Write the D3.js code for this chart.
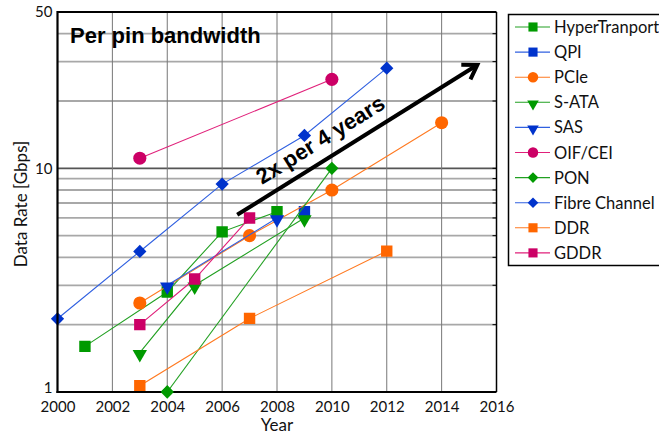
<!DOCTYPE html>
<html>
<head>
<meta charset="utf-8">
<script src="https://cdn.jsdelivr.net/npm/d3@7"></script>
<style>
  html, body { margin: 0; padding: 0; background: #fff; }
  svg { display: block; }
  .tick-label { font-family: Lato, "Open Sans", sans-serif; font-size: 15px; fill: #111; }
  .axis-title { font-family: Lato, "Open Sans", sans-serif; font-size: 17px; fill: #111; }
  .legend-label { font-family: Lato, "Open Sans", sans-serif; font-size: 16.5px; fill: #111; }
</style>
</head>
<body>
<svg id="chart" width="659" height="435"></svg>
<script>
// ---- data ----
const yearTicks = [2000, 2002, 2004, 2006, 2008, 2010, 2012, 2014, 2016];
const rateTickLabels = [1, 10, 50];
const rateGrid = [2, 3, 4, 5, 6, 7, 8, 9, 20, 30, 40];

const hyperTransportYears = [2001, 2004, 2006, 2008];
const hyperTransportRates = [1.6, 2.8, 5.2, 6.4];
const qpiYears = [2009];
const qpiRates = [6.4];
const pcieYears = [2003, 2007, 2010, 2014];
const pcieRates = [2.5, 5.0, 8.0, 16.0];
const sataYears = [2003, 2005, 2009];
const sataRates = [1.5, 3.0, 6.0];
const sasYears = [2004, 2008];
const sasRates = [3.0, 6.0];
const oifYears = [2003, 2010];
const oifRates = [11.1, 25.0];
const ponYears = [2004, 2010];
const ponRates = [1.0, 10.0];
const fibreYears = [2000, 2003, 2006, 2009, 2012];
const fibreRates = [2.125, 4.25, 8.5, 14.025, 28.05];
const ddrYears = [2000, 2003, 2007, 2012];
const ddrRates = [0.4, 1.066, 2.133, 4.266];
const gddrYears = [2003, 2005, 2007];
const gddrRates = [2.0, 3.2, 6.0];

const trendYears = [2006.55, 2015.3];
const trendRates = [6.2, 29];

const green = { mark: "#009a00", line: "#22a022" };
const blue = { mark: "#0033cc", line: "#3060e0" };
const orange = { mark: "#ff6600", line: "#ff7a22" };
const magenta = { mark: "#cc0066", line: "#e0207a" };

const series = [
  { name: "HyperTranport", years: hyperTransportYears, rates: hyperTransportRates, color: green, shape: "square" },
  { name: "QPI", years: qpiYears, rates: qpiRates, color: blue, shape: "square" },
  { name: "PCIe", years: pcieYears, rates: pcieRates, color: orange, shape: "circle" },
  { name: "S-ATA", years: sataYears, rates: sataRates, color: green, shape: "triangle" },
  { name: "SAS", years: sasYears, rates: sasRates, color: blue, shape: "triangle" },
  { name: "OIF/CEI", years: oifYears, rates: oifRates, color: magenta, shape: "circle" },
  { name: "PON", years: ponYears, rates: ponRates, color: green, shape: "diamond" },
  { name: "Fibre Channel", years: fibreYears, rates: fibreRates, color: blue, shape: "diamond" },
  { name: "DDR", years: ddrYears, rates: ddrRates, color: orange, shape: "square" },
  { name: "GDDR", years: gddrYears, rates: gddrRates, color: magenta, shape: "square" }
];

// ---- layout ----
const svg = d3.select("#chart");
const plot = { left: 57.5, right: 496.5, top: 12, bottom: 392 };

const x = d3.scaleLinear().domain([2000, 2016]).range([plot.left, plot.right]);
const y = d3.scaleLog().domain([1, 50]).range([plot.bottom, plot.top]);

svg.append("defs").append("clipPath").attr("id", "plot-clip")
  .append("rect")
  .attr("x", plot.left - 8).attr("y", plot.top)
  .attr("width", plot.right - plot.left + 8).attr("height", plot.bottom - plot.top);

// ---- grid ----
const grid = svg.append("g");
grid.selectAll("line.hminor").data(rateGrid).join("line")
  .attr("x1", plot.left).attr("x2", plot.right)
  .attr("y1", d => y(d)).attr("y2", d => y(d))
  .attr("stroke", "#a8a8a8").attr("stroke-width", 1.8);
grid.append("line")
  .attr("x1", plot.left).attr("x2", plot.right)
  .attr("y1", y(10)).attr("y2", y(10))
  .attr("stroke", "#555").attr("stroke-width", 1.8);
grid.selectAll("line.v").data(yearTicks.slice(1, -1)).join("line")
  .attr("x1", d => x(d)).attr("x2", d => x(d))
  .attr("y1", plot.top).attr("y2", plot.bottom)
  .attr("stroke", "#777").attr("stroke-width", 1);

// ---- symbols ----
function symbolPath(shape, scale) {
  const s = scale || 1;
  if (shape === "square") return d3.symbol(d3.symbolSquare, 130 * s * s)();
  if (shape === "circle") return d3.symbol(d3.symbolCircle, 135 * s * s)();
  if (shape === "triangle") return d3.symbol(d3.symbolTriangle, 90 * s * s)();
  return d3.symbol(d3.symbolSquare, 88 * s * s)();
}
function symbolRotation(shape) {
  if (shape === "triangle") return 180;
  if (shape === "diamond") return 45;
  return 0;
}
function symbolOffset(shape) {
  return shape === "triangle" ? 1.5 : 0;
}
function placeSymbol(shape, d) {
  return `translate(${x(d[0])},${y(d[1]) + symbolOffset(shape)}) rotate(${symbolRotation(shape)})`;
}

// ---- series ----
const lineGen = d3.line().x(d => x(d[0])).y(d => y(d[1]));
const lineLayer = svg.append("g").attr("clip-path", "url(#plot-clip)");

series.forEach(s => {
  const pts = s.years.map((yr, i) => [yr, s.rates[i]]);
  const inside = pts.filter(d => d[1] >= 1);
  const g = lineLayer.append("g");
  g.append("path")
    .attr("d", lineGen(pts))
    .attr("fill", "none")
    .attr("stroke", s.color.line)
    .attr("stroke-width", 1.1);
  g.selectAll("path.pt").data(inside).join("path")
    .attr("d", symbolPath(s.shape))
    .attr("transform", d => placeSymbol(s.shape, d))
    .attr("fill", s.color.mark);
});

// ---- trend arrow ----
const ax0 = x(trendYears[0]), ay0 = y(trendRates[0]);
const ax1 = x(trendYears[1]), ay1 = y(trendRates[1]);
const ang = Math.atan2(ay1 - ay0, ax1 - ax0);
const headLen = 16, headSpread = Math.PI / 5.5;
svg.append("line")
  .attr("x1", ax0).attr("y1", ay0).attr("x2", ax1 - 2 * Math.cos(ang)).attr("y2", ay1 - 2 * Math.sin(ang))
  .attr("stroke", "#000").attr("stroke-width", 4);
svg.append("path")
  .attr("d", `M${ax1 - headLen * Math.cos(ang - headSpread)},${ay1 - headLen * Math.sin(ang - headSpread)}` +
             `L${ax1},${ay1}` +
             `L${ax1 - headLen * Math.cos(ang + headSpread)},${ay1 - headLen * Math.sin(ang + headSpread)}`)
  .attr("fill", "none").attr("stroke", "#000").attr("stroke-width", 4)
  .attr("stroke-linejoin", "miter").attr("stroke-linecap", "butt");

const t0 = 0.13;
const lx = ax0 + (ax1 - ax0) * t0 + 12 * Math.sin(ang);
const ly = ay0 + (ay1 - ay0) * t0 - 12 * Math.cos(ang);
svg.append("text")
  .attr("transform", `translate(${lx},${ly}) rotate(${ang * 180 / Math.PI})`)
  .attr("font-family", "'Liberation Sans', Arial, sans-serif")
  .attr("font-weight", "bold")
  .attr("font-size", 22)
  .attr("fill", "#000")
  .text("2x per 4 years");

// ---- title ----
svg.append("text")
  .attr("x", 70).attr("y", 43)
  .attr("font-family", "'Liberation Sans', Arial, sans-serif")
  .attr("font-weight", "bold")
  .attr("font-size", 22)
  .attr("fill", "#000")
  .text("Per pin bandwidth");

// ---- frame & ticks ----
const frame = svg.append("g");
frame.append("line").attr("x1", plot.left).attr("x2", plot.right).attr("y1", plot.top).attr("y2", plot.top)
  .attr("stroke", "#000").attr("stroke-width", 2);
frame.append("line").attr("x1", plot.right).attr("x2", plot.right).attr("y1", plot.top).attr("y2", plot.bottom)
  .attr("stroke", "#000").attr("stroke-width", 1.5);
frame.append("line").attr("x1", plot.left).attr("x2", plot.left).attr("y1", plot.top - 1).attr("y2", plot.bottom + 1)
  .attr("stroke", "#000").attr("stroke-width", 2.2);
frame.append("line").attr("x1", plot.left - 1).attr("x2", plot.right).attr("y1", plot.bottom).attr("y2", plot.bottom)
  .attr("stroke", "#000").attr("stroke-width", 2.2);

// markers sitting on the bottom edge are drawn whole, above the axis line
series.forEach(s => {
  const edge = s.years.map((yr, i) => [yr, s.rates[i]]).filter(d => d[1] === 1);
  svg.append("g").selectAll("path").data(edge).join("path")
    .attr("d", symbolPath(s.shape))
    .attr("transform", d => placeSymbol(s.shape, d))
    .attr("fill", s.color.mark);
});

const xAxis = d3.axisBottom(x).tickValues(yearTicks).tickSize(0).tickPadding(9).tickFormat(d3.format("d"));
svg.append("g").attr("transform", `translate(0,${plot.bottom})`).call(xAxis)
  .call(g => g.select(".domain").remove())
  .call(g => g.selectAll("text").attr("class", "tick-label").attr("font-family", null).attr("font-size", null));

const yAxis = d3.axisLeft(y).tickValues(rateTickLabels).tickSize(0).tickPadding(5).tickFormat(d3.format("d"));
svg.append("g").attr("transform", `translate(${plot.left},0)`).call(yAxis)
  .call(g => g.select(".domain").remove())
  .call(g => g.selectAll("text").attr("class", "tick-label").attr("font-family", null).attr("font-size", null))
  // the lowest label sits just above the year labels
  .call(g => g.selectAll(".tick").filter(d => d === 1).select("text").attr("dy", "0.05em"));

// small tick marks on the right edge at grid levels
svg.append("g").selectAll("line").data(rateGrid.concat([10])).join("line")
  .attr("x1", plot.right - 4).attr("x2", plot.right)
  .attr("y1", d => y(d)).attr("y2", d => y(d))
  .attr("stroke", "#000").attr("stroke-width", 1);

// axis titles
svg.append("text")
  .attr("x", x(2008)).attr("y", 431)
  .attr("text-anchor", "middle")
  .attr("class", "axis-title")
  .text("Year");
svg.append("text")
  .attr("transform", `translate(27,${204}) rotate(-90)`)
  .attr("text-anchor", "middle")
  .attr("class", "axis-title")
  .text("Data Rate [Gbps]");

// ---- legend ----
const legend = svg.append("g");
legend.append("rect")
  .attr("x", 508.5).attr("y", 14.5).attr("width", 170).attr("height", 251)
  .attr("fill", "#fff").attr("stroke", "#000").attr("stroke-width", 1.5);
const item = legend.selectAll("g.item").data(series).join("g")
  .attr("transform", (d, i) => `translate(0,${27 + i * 25.1})`);
item.append("line")
  .attr("x1", 515).attr("x2", 550).attr("y1", 0).attr("y2", 0)
  .attr("stroke", d => d.color.line).attr("stroke-width", 1.1);
item.append("path")
  .attr("d", d => symbolPath(d.shape, 0.8))
  .attr("transform", d => `translate(533,${symbolOffset(d.shape)}) rotate(${symbolRotation(d.shape)})`)
  .attr("fill", d => d.color.mark);
item.append("text")
  .attr("x", 554).attr("y", 6)
  .attr("class", "legend-label")
  .text(d => d.name);
</script>
</body>
</html>
